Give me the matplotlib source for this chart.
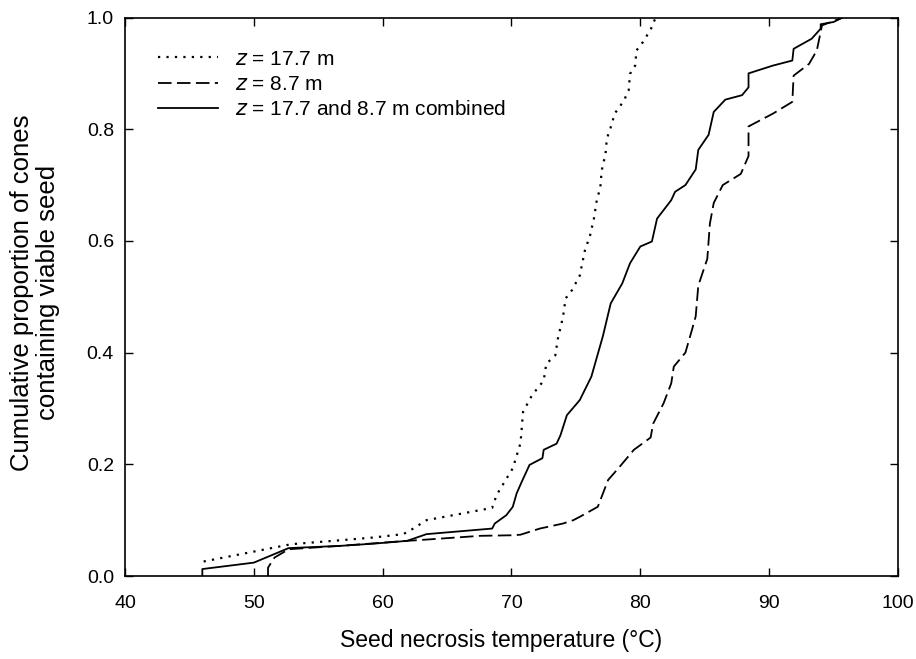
import matplotlib
matplotlib.use("Agg")
import matplotlib.pyplot as plt

plt.rcParams['font.family'] = ['Liberation Sans', 'DejaVu Sans']

# z = 17.7 m (dotted)
t_17 = [46.1, 52.9, 56.7, 59.3, 61.6, 62.3, 63.4, 68.5, 68.7, 69.0, 70.1, 70.7, 70.9,
        71.6, 72.5, 72.7, 73.4, 73.6, 74.0, 74.2, 74.7, 75.3, 75.7, 76.1, 76.4, 76.6,
        76.9, 77.0, 77.3, 77.4, 77.8, 78.0, 78.4, 78.8, 79.1, 79.2, 79.6, 79.7, 80.2,
        80.6, 80.9, 81.1, 81.2]
p_17 = [0.026, 0.057, 0.064, 0.069, 0.075, 0.084, 0.100, 0.122, 0.136, 0.151, 0.193, 0.238, 0.294,
        0.324, 0.350, 0.380, 0.395, 0.425, 0.464, 0.497, 0.512, 0.538, 0.583, 0.610, 0.640, 0.670,
        0.697, 0.726, 0.756, 0.783, 0.810, 0.828, 0.840, 0.855, 0.870, 0.899, 0.914, 0.941, 0.956,
        0.971, 0.983, 0.995, 1.0]

# z = 8.7 m (dashed)
t_8 = [51.1, 51.1, 51.6, 52.7, 56.7, 61.9, 62.6, 67.6, 70.1, 70.7, 72.2, 74.0, 74.8, 75.3,
       76.7, 77.5, 78.3, 79.5, 80.8, 81.0, 81.8, 82.4, 82.6, 83.5, 84.0, 84.3, 84.5, 85.2,
       85.4, 85.7, 86.4, 87.8, 88.4, 88.4, 90.3, 91.8, 91.9, 93.1, 93.7, 94.0, 94.1, 95.5, 95.7]
p_8 = [0.0, 0.015, 0.033, 0.048, 0.054, 0.063, 0.064, 0.072, 0.073, 0.074, 0.085, 0.094, 0.100, 0.106,
       0.124, 0.172, 0.193, 0.226, 0.248, 0.273, 0.309, 0.345, 0.375, 0.400, 0.440, 0.465, 0.520, 0.568,
       0.631, 0.668, 0.700, 0.720, 0.752, 0.805, 0.828, 0.849, 0.896, 0.917, 0.941, 0.974, 0.986, 0.998, 1.0]

# combined (solid)
t_all = [46.0, 46.0, 50.0, 52.7, 56.7, 59.3, 61.9, 63.4, 68.5, 68.7, 69.6, 70.1, 70.4, 70.8,
         71.4, 72.4, 72.5, 73.5, 73.8, 74.3, 75.3, 76.2, 77.1, 77.7, 78.6, 79.2, 80.0, 80.9,
         81.3, 82.4, 82.7, 83.5, 84.3, 84.5, 85.3, 85.7, 86.6, 87.9, 88.4, 88.4, 90.3, 91.8,
         91.9, 93.3, 94.0, 94.0, 95.0, 95.7]
p_all = [0.0, 0.0125, 0.024, 0.050, 0.054, 0.058, 0.063, 0.075, 0.085, 0.094, 0.109, 0.124, 0.148, 0.169,
         0.199, 0.211, 0.226, 0.237, 0.252, 0.288, 0.315, 0.357, 0.430, 0.488, 0.524, 0.560, 0.590, 0.599,
         0.640, 0.673, 0.688, 0.700, 0.728, 0.763, 0.790, 0.831, 0.853, 0.861, 0.875, 0.900, 0.914, 0.923,
         0.944, 0.962, 0.980, 0.988, 0.992, 1.0]

labels = [r"$z$ = 17.7 m", r"$z$ = 8.7 m", r"$z$ = 17.7 and 8.7 m combined"]
x_ticks = [40, 50, 60, 70, 80, 90, 100]
y_ticks = [0.0, 0.2, 0.4, 0.6, 0.8, 1.0]

fig = plt.figure(figsize=(9.16, 6.59), dpi=100)
ax = fig.add_axes([0.1365, 0.1259, 0.8438, 0.8475])

ax.plot(t_17, p_17, color='black', lw=1.6, linestyle=(0, (1, 2.8)), label=labels[0])
ax.plot(t_8, p_8, color='black', lw=1.3, linestyle=(0, (7.5, 3.0)), label=labels[1])
ax.plot(t_all, p_all, color='black', lw=1.3, linestyle='-', label=labels[2])

ax.set_xlim(40, 100)
ax.set_ylim(0, 1.0)
ax.set_xticks(x_ticks)
ax.set_yticks(y_ticks)
ax.set_xticklabels([str(v) for v in x_ticks])
ax.set_yticklabels([f"{v:.1f}" for v in y_ticks])
ax.tick_params(direction='in', length=6, width=1.0, top=True, right=True,
               labelsize=14)
ax.tick_params(axis='x', pad=14)
ax.tick_params(axis='y', pad=8)
for s in ax.spines.values():
    s.set_linewidth(1.2)

ax.set_xlabel("Seed necrosis temperature (°C)", fontsize=16.5, va='center')
ax.xaxis.set_label_coords(0.487, -0.115)
ax.set_ylabel("Cumulative proportion of cones\ncontaining viable seed", fontsize=18.5,
              va='center', linespacing=1.1)
ax.yaxis.set_label_coords(-0.117, 0.508)

leg = ax.legend(loc='upper left', bbox_to_anchor=(0.018, 0.976), frameon=False,
                fontsize=15, handlelength=2.9, handletextpad=0.8, labelspacing=0.3)

fig.savefig("out.png", dpi=100)
